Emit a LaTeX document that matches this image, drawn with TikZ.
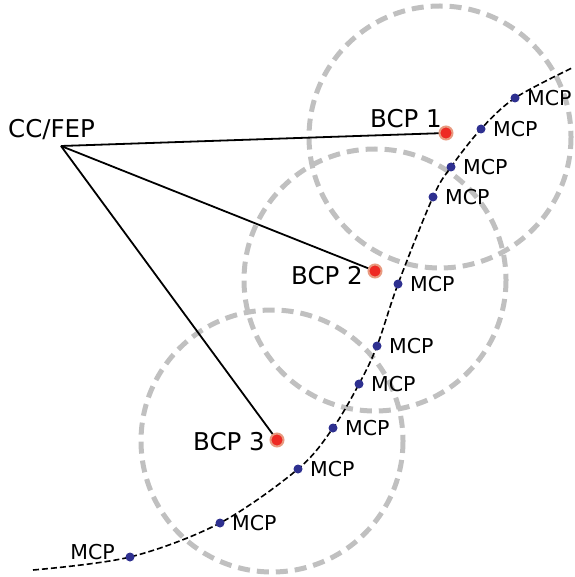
\documentclass[tikz,border=0pt]{standalone}
\usepackage{fontspec}
\setmainfont{DejaVu Sans}
\definecolor{ringgray}{HTML}{C0C0C0}
\definecolor{mcpblue}{HTML}{2E3090}
\definecolor{bcpred}{HTML}{EE2A24}
\definecolor{bcphalo}{HTML}{E89A80}
\tikzset{
  coverage/.style={draw=ringgray, line width=5pt, dash pattern=on 12pt off 7pt},
  link/.style={draw=black, line width=1.8pt},
  route/.style={draw=black, line width=1.6pt, dash pattern=on 6pt off 3pt},
  mcpdot/.style={circle, fill=mcpblue, minimum size=9pt, inner sep=0pt},
  bcpdot/.style={circle, fill=bcpred, draw=bcphalo, line width=2pt, minimum size=13pt, inner sep=0pt},
  mcptext/.style={font=\fontsize{20.5}{24}\selectfont, inner sep=0pt},
  bcptext/.style={font=\fontsize{24.5}{28}\selectfont, inner sep=0pt},
}
\begin{document}
\begin{tikzpicture}[x=1pt, y=-1pt]
\useasboundingbox (0,0) rectangle (574,577);

% coverage areas of the base control points
\draw[coverage] (440,137) circle[radius=131];
\draw[coverage] (375,280) circle[radius=131];
\draw[coverage] (272,441) circle[radius=131];

% central controller
\coordinate (hub) at (61,146);
\node[bcptext, anchor=base west] (cc) at (8,138) {CC/FEP};

% base control points
\coordinate (b1) at (446,133);
\coordinate (b2) at (375,271);
\coordinate (b3) at (277,440);

\draw[link] (hub) -- (b1);
\draw[link] (hub) -- (b2);
\draw[link] (hub) -- (b3);

% mobile control points along the route
\coordinate (r0) at (33,570);
\coordinate (m11) at (130,557);
\coordinate (m10) at (220,523);
\coordinate (m9) at (298,469);
\coordinate (m8) at (333,428);
\coordinate (m7) at (359,384);
\coordinate (m6) at (377,346);
\coordinate (m5) at (398,284);
\coordinate (m4) at (433,197);
\coordinate (m3) at (451,167);
\coordinate (m2) at (481,129);
\coordinate (m1) at (515,98);
\coordinate (r1) at (572,68);

\draw[route] plot[smooth, tension=0.55] coordinates {(r0) (m11) (m10) (m9) (m8) (m7) (m6) (m5) (m4) (m3) (m2) (m1) (r1)};

\foreach \m in {m1,m2,m3,m4,m5,m6,m7,m8,m9,m10,m11}
  \node[mcpdot] (d\m) at (\m) {};

\foreach \m in {m1,m2,m3,m4,m5,m6,m7,m8,m9,m10}
  \node[mcptext, anchor=west] (t\m) at ([xshift=12pt]\m) {MCP};
\node[mcptext, anchor=east] (tm11) at ([xshift=-15pt, yshift=5pt]m11) {MCP};

\node[bcpdot] (p1) at (b1) {};
\node[bcpdot] (p2) at (b2) {};
\node[bcpdot] (p3) at (b3) {};

\node[bcptext, anchor=base east] (l1) at ([xshift=-4pt, yshift=5pt]b1) {BCP 1};
\node[bcptext, anchor=base east] (l2) at ([xshift=-12pt, yshift=-13pt]b2) {BCP 2};
\node[bcptext, anchor=base east] (l3) at ([xshift=-12pt, yshift=-10pt]b3) {BCP 3};
\end{tikzpicture}
\end{document}
